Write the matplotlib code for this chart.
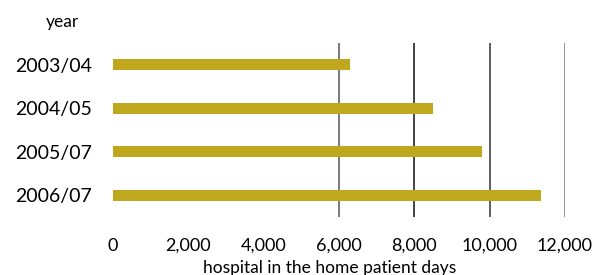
import numpy as np
import matplotlib.pyplot as plt

years = ['2003/04', '2004/05', '2005/07', '2006/07']
patient_days = [6300, 8500, 9800, 11350]
xticks = [0, 2000, 4000, 6000, 8000, 10000, 12000]
gridlines = [6000, 8000, 10000, 12000]

plt.rcParams['font.family'] = ['Lato', 'DejaVu Sans']

fig = plt.figure(figsize=(5.93, 2.75), dpi=100)
ax = fig.add_axes([113/593, 1 - 217/275, 452/593, 174/275])

y = np.arange(len(years))
ax.vlines(gridlines, -0.5, len(years) - 0.5,
          colors=['#555555', '#111111', '#333333', '#777777'], lw=1.1, zorder=1)
ax.barh(y, patient_days, height=0.25, color='#bfa81d', zorder=2)

ax.set_xlim(0, 12000)
ax.set_ylim(len(years) - 0.5, -0.5)
ax.set_xticks(xticks)
ax.set_xticklabels([f'{v:,}' for v in xticks], fontsize=13)
ax.set_yticks(y)
ax.set_yticklabels(years, fontsize=14)
ax.tick_params(length=0)
ax.tick_params(axis='x', pad=15)
ax.tick_params(axis='y', pad=15)
for s in ax.spines.values():
    s.set_visible(False)

ax.set_xlabel('hospital in the home patient days', fontsize=12.5)
ax.xaxis.set_label_coords(0.48, -0.245)
fig.text(62/593, 1 - 22/275, 'year', fontsize=12.5, ha='center', va='center')

fig.savefig('out.png', dpi=100)
